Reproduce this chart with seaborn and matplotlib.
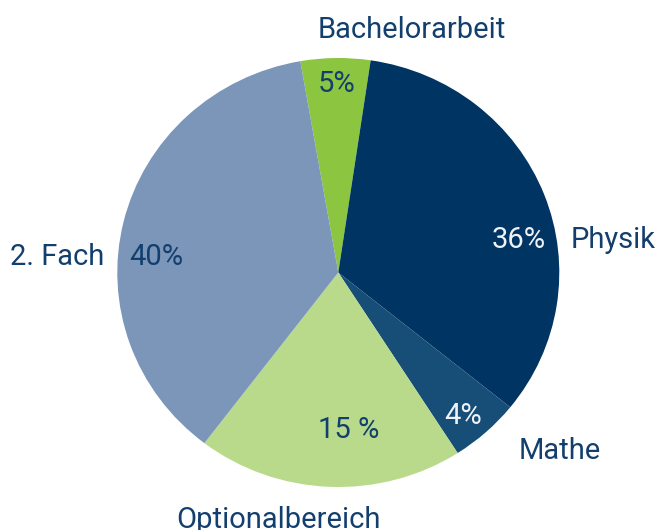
import matplotlib
matplotlib.use("Agg")
import matplotlib.pyplot as plt
import seaborn as sns

# Data (slice shares as drawn, and the printed labels)
categories = ["Bachelorarbeit", "Physik", "Mathe", "Optionalbereich", "2. Fach"]
shares = [5.09, 33.47, 5.11, 19.44, 36.89]
pct_labels = ["5%", "36%", "4%", "15 %", "40%"]
colors = ["#8cc540", "#003462", "#164e78", "#b8da8a", "#7b96b9"]

sns.set_theme(style="white")
plt.rcParams["font.family"] = ["Roboto", "DejaVu Sans"]

W, H = 669, 530
fig = plt.figure(figsize=(W / 100, H / 100), dpi=100)
ax = fig.add_axes([0, 0, 1, 1])

cx, cy, Rx, Ry = 338.3, 272.5, 221.0, 214.5
ax.pie(shares, colors=colors, startangle=99.9, counterclock=False,
       radius=1.0, center=(0, 0), wedgeprops=dict(linewidth=0))
ax.set_aspect("auto")
ax.set_xlim(-cx / Rx, (W - cx) / Rx)
ax.set_ylim(-(H - cy) / Ry, cy / Ry)
ax.axis("off")

def px(x, y):
    return (x - cx) / Rx, (cy - y) / Ry

text_col = "#123f6d"
fs = 21
# name labels (pixel positions: center x, baseline y)
name_pos = [(411.5, 38), (613.5, 248), (560, 459), (278, 528), (56.7, 265)]
pct_pos = [(336.5, 91.5), (519, 248), (463, 424), (348.5, 438), (156.5, 265)]
pct_cols = [text_col, "#eef2f6", "#eef2f6", text_col, text_col]

for name, (x, y) in zip(categories, name_pos):
    ax.text(*px(x, y), name, ha="center", va="baseline", fontsize=fs, color=text_col)
for lab, (x, y), c in zip(pct_labels, pct_pos, pct_cols):
    ax.text(*px(x, y), lab, ha="center", va="baseline", fontsize=fs, color=c)

fig.savefig("out.png", dpi=100)
